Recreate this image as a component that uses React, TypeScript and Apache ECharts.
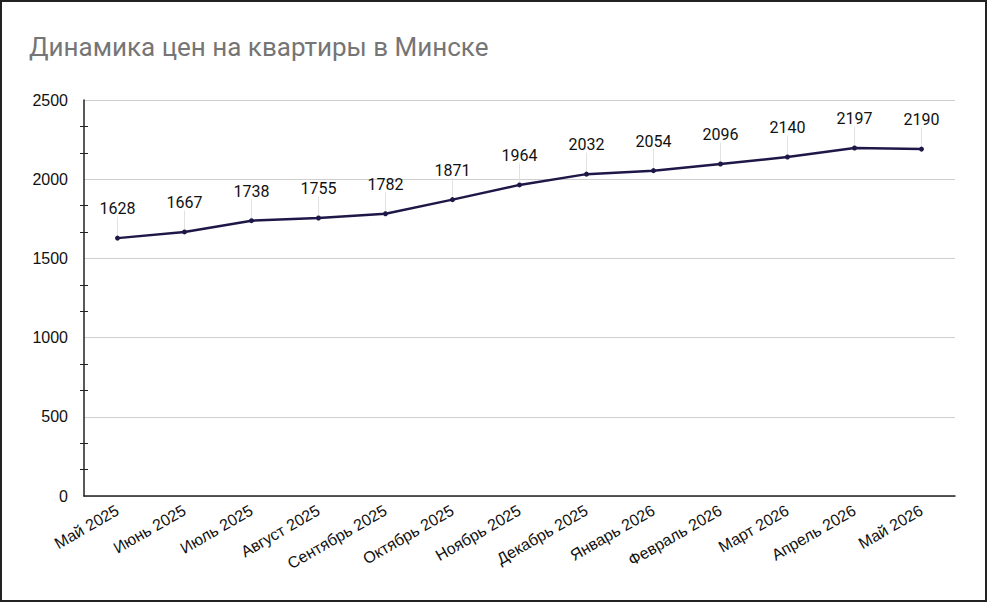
import { useEffect, useRef } from "react";
import * as echarts from "echarts";

const months = [
  "Май 2025",
  "Июнь 2025",
  "Июль 2025",
  "Август 2025",
  "Сентябрь 2025",
  "Октябрь 2025",
  "Ноябрь 2025",
  "Декабрь 2025",
  "Январь 2026",
  "Февраль 2026",
  "Март 2026",
  "Апрель 2026",
  "Май 2026",
];

const prices = [1628, 1667, 1738, 1755, 1782, 1871, 1964, 2032, 2054, 2096, 2140, 2197, 2190];

const yMin = 0;
const yMax = 2500;
const yStep = 500;

const axisFont = "'Liberation Sans', Arial, sans-serif";

export default function App() {
  const ref = useRef<HTMLDivElement>(null);

  useEffect(() => {
    document.body.style.margin = "0";
    if (!ref.current) return;
    const chart = echarts.init(ref.current, undefined, { renderer: "svg" });

    const yBase = {
      type: "value" as const,
      min: yMin,
      max: yMax,
      interval: yStep,
      position: "left" as const,
    };

    chart.setOption({
      animation: false,
      title: {
        text: "Динамика цен на квартиры в Минске",
        left: 22,
        top: 27,
        textStyle: {
          fontFamily: "Roboto",
          fontSize: 26,
          fontWeight: "normal",
          color: "#757575",
        },
      },
      grid: { left: 82, right: 30, top: 98, bottom: 104 },
      xAxis: {
        type: "category",
        data: months,
        boundaryGap: true,
        axisLine: { lineStyle: { color: "#222", width: 1.5 } },
        axisTick: { show: false },
        axisLabel: {
          rotate: 30,
          interval: 0,
          margin: 13,
          fontFamily: axisFont,
          fontSize: 16,
          color: "#111",
        },
      },
      yAxis: [
        {
          ...yBase,
          axisLine: { show: true, lineStyle: { color: "#222", width: 1.5 } },
          axisTick: { show: false },
          minorTick: { show: true, splitNumber: 3, length: 4, lineStyle: { color: "#222" } },
          splitLine: { lineStyle: { color: "#cfcfcf" } },
          axisLabel: {
            fontFamily: axisFont,
            fontSize: 16,
            color: "#111",
            margin: 16,
            formatter: (v: number) => String(v),
          },
        },
        {
          ...yBase,
          offset: -4,
          axisLine: { show: false },
          axisTick: { show: false },
          minorTick: { show: true, splitNumber: 3, length: 4, lineStyle: { color: "#222" } },
          splitLine: { show: false },
          axisLabel: { show: false },
        },
      ],
      series: [
        {
          type: "line",
          data: prices,
          symbol: "circle",
          symbolSize: 5,
          itemStyle: { color: "#1e1848" },
          lineStyle: { color: "#1e1848", width: 2.5 },
          label: {
            show: true,
            position: "top",
            distance: 4,
            fontFamily: "Roboto",
            fontSize: 16,
            color: "#111",
          },
          labelLayout: { dy: -15 },
          labelLine: { show: true, lineStyle: { color: "#e2e2e2", width: 1 } },
        },
      ],
    });

    return () => chart.dispose();
  }, []);

  return (
    <div
      style={{
        width: 987,
        height: 602,
        boxSizing: "border-box",
        border: "2px solid #222",
        background: "#fff",
      }}
    >
      <div ref={ref} style={{ width: 983, height: 598 }} />
    </div>
  );
}
